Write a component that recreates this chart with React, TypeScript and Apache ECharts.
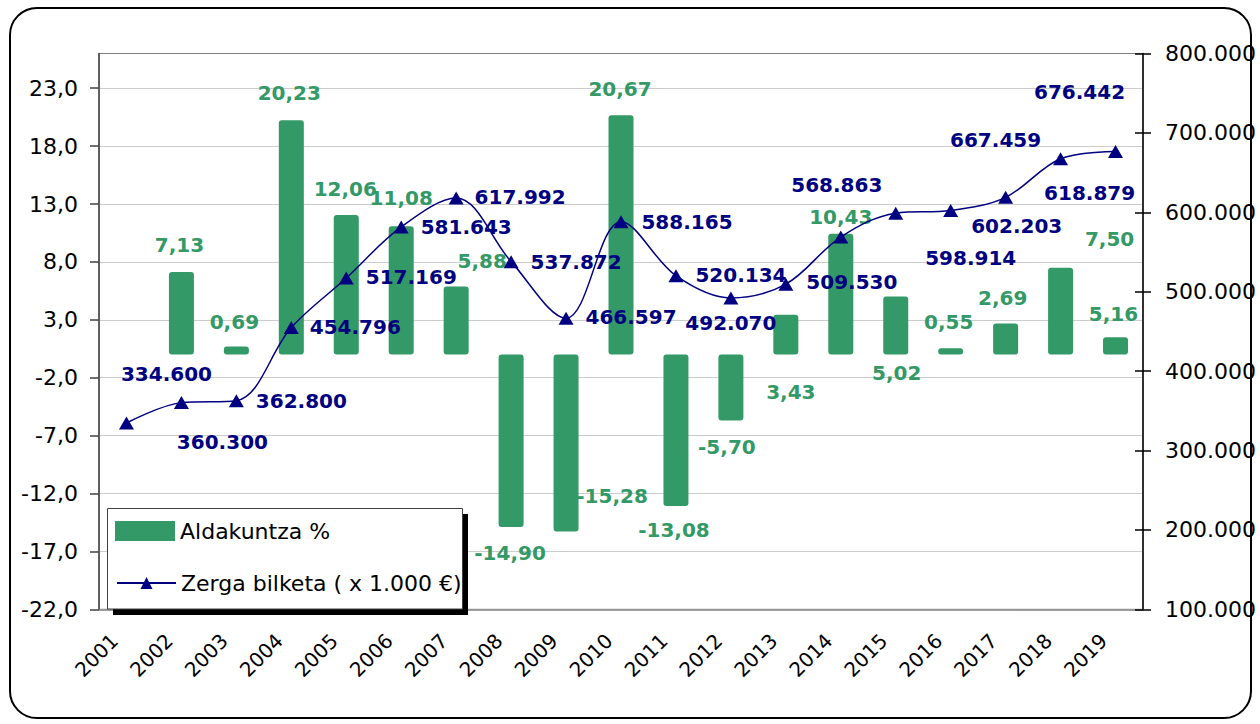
import React, { useEffect, useRef } from 'react';
import * as echarts from 'echarts';

const years = ['2001', '2002', '2003', '2004', '2005', '2006', '2007', '2008', '2009', '2010', '2011', '2012', '2013', '2014', '2015', '2016', '2017', '2018', '2019'];

// Aldakuntza % (bar heights as drawn)
const pctChange: (number | null)[] = [null, 7.13, 0.69, 20.23, 12.06, 11.08, 5.88, -14.9, -15.28, 20.67, -13.08, -5.7, 3.43, 10.43, 5.02, 0.55, 2.69, 7.5, 1.5];
// Values printed in the bar labels
const pctLabelValues: (number | null)[] = [null, 7.13, 0.69, 20.23, 12.06, 11.08, 5.88, -14.9, -15.28, 20.67, -13.08, -5.7, 3.43, 10.43, 5.02, 0.55, 2.69, 7.5, 5.16];

// Zerga bilketa (x 1.000 €)
const taxCollection: number[] = [334600, 360300, 362800, 454796, 517169, 581643, 617992, 537872, 466597, 588165, 520134, 492070, 509530, 568863, 598914, 602203, 618879, 667459, 676442];

const pctTicks = [-22, -17, -12, -7, -2, 3, 8, 13, 18, 23];

// label placement (styling only)
const pctLabelOffsets: [number, number][] = [
  [0, 0], [-2, -17], [-2, -15], [-2, -17], [-1, -16], [0, -18], [26, -15], [-1, 16], [46, -45], [-1, -16],
  [-2, 14], [-4, 16], [5, 87], [0, -7], [1, 87], [-2, -16], [-3, -15], [49, -19], [-2, -13],
];
const taxLabelOffsets: [number, number][] = [
  [40, -49], [41, 39], [65, 0], [64, -1], [65, -1], [65, 0], [64, -1], [65, 0], [65, -1], [66, 0],
  [65, -1], [0, 25], [66, -2], [-4, -52], [75, 45], [66, 15], [84, -4], [-65, -19], [-36, -60],
];

const GREEN = '#339966';
const NAVY = '#000080';
const FONT = 'DejaVu Sans';

const fmtThousands = (v: number) => Math.round(v).toString().replace(/\B(?=(\d{3})+(?!\d))/g, '.');

export default function App() {
  const ref = useRef<HTMLDivElement>(null);
  useEffect(() => {
    if (!ref.current) return;
    const chart = echarts.init(ref.current, undefined, { renderer: 'svg' });
    const option: any = {
      animation: false,
      backgroundColor: '#ffffff',
      textStyle: { fontFamily: FONT },
      grid: {
        left: 99, right: 117, top: 53.5, bottom: 114.7,
        show: true, borderColor: '#808080', borderWidth: 1, backgroundColor: 'transparent',
      },
      legend: [
        {
          data: ['Aldakuntza %'], left: 115, top: 520, padding: 0, itemWidth: 60, itemHeight: 20,
          icon: 'rect', selectedMode: false, z: 20,
          textStyle: { fontSize: 22, fontFamily: FONT, color: '#000' },
        },
        {
          data: ['Zerga bilketa ( x 1.000 €)'], left: 116, top: 572, padding: 0, itemWidth: 59, itemHeight: 15,
          selectedMode: false, z: 20,
          textStyle: { fontSize: 22, fontFamily: FONT, color: '#000' },
        },
      ],
      xAxis: {
        type: 'category', data: years, boundaryGap: true,
        axisLine: { onZero: false, lineStyle: { color: '#808080', width: 1.5 } },
        axisTick: { show: false },
        axisLabel: {
          rotate: 45, fontSize: 20, fontFamily: FONT, color: '#000', margin: 16, interval: 0,
          padding: [0, 17, 0, 0],
        },
        splitLine: { show: false },
      },
      yAxis: [
        {
          type: 'value', position: 'left', min: -22, max: 26, interval: 5,
          axisLine: { show: true, lineStyle: { color: '#404040', width: 1.5 } },
          axisTick: { show: true, length: 9, lineStyle: { color: '#404040', width: 1.5 }, customValues: pctTicks },
          axisLabel: {
            fontSize: 22, fontFamily: FONT, color: '#000', margin: 21,
            customValues: pctTicks,
            formatter: (v: number) => v.toFixed(1).replace('.', ','),
          },
          splitLine: { show: true, lineStyle: { color: '#cccccc', width: 1 } },
        },
        {
          type: 'value', position: 'right', min: 100000, max: 800000, interval: 100000,
          axisLine: { show: true, lineStyle: { color: '#000', width: 1.5 } },
          axisTick: { show: true, length: 8, lineStyle: { color: '#000', width: 1.5 } },
          axisLabel: {
            fontSize: 22, fontFamily: FONT, color: '#000', margin: 22,
            formatter: (v: number) => fmtThousands(v),
          },
          splitLine: { show: false },
        },
        {
          type: 'value', position: 'right', min: 100000, max: 800000, interval: 100000,
          axisLine: { show: false },
          axisTick: { show: true, inside: true, length: 8, lineStyle: { color: '#000', width: 1.5 } },
          axisLabel: { show: false },
          splitLine: { show: false },
        },
      ],
      series: [
        {
          name: 'Aldakuntza %', type: 'bar', yAxisIndex: 0, barWidth: 25,
          itemStyle: { color: GREEN, borderRadius: 3 },
          data: pctChange.map((v, i) => (v === null ? '-' : { value: v, label: { offset: pctLabelOffsets[i] } })),
          label: {
            show: true, position: 'outside', distance: 0, color: GREEN, fontSize: 20, fontWeight: 'bold', fontFamily: FONT,
            formatter: (p: any) => {
              const v = pctLabelValues[p.dataIndex];
              return v == null ? '' : v.toFixed(2).replace('.', ',');
            },
          },
        },
        {
          name: 'Zerga bilketa ( x 1.000 €)', type: 'line', yAxisIndex: 1, smooth: 0.35,
          symbol: 'triangle', symbolSize: [15, 13],
          lineStyle: { color: NAVY, width: 1.5 },
          itemStyle: { color: NAVY },
          data: taxCollection.map((v, i) => ({ value: v, label: { offset: taxLabelOffsets[i] } })),
          label: {
            show: true, position: 'inside', color: NAVY, fontSize: 20, fontWeight: 'bold', fontFamily: FONT,
            formatter: (p: any) => fmtThousands(p.value),
          },
          z: 3,
        },
      ],
      graphic: [
        {
          type: 'rect', z: 10, silent: true,
          shape: { x: 10, y: 8, width: 1241, height: 710, r: 27 },
          style: { fill: 'none', stroke: '#000', lineWidth: 2 },
        },
        {
          type: 'rect', z: 5, silent: true,
          shape: { x: 113, y: 514, width: 355, height: 101 },
          style: { fill: '#000' },
        },
        {
          type: 'rect', z: 5, silent: true,
          shape: { x: 107.5, y: 508.5, width: 355, height: 100.5 },
          style: { fill: '#fff', stroke: '#404040', lineWidth: 1 },
        },
      ],
    };
    chart.setOption(option);
    return () => chart.dispose();
  }, []);
  return <div ref={ref} style={{ position: 'absolute', left: 0, top: 0, width: 1260, height: 724 }} />;
}
